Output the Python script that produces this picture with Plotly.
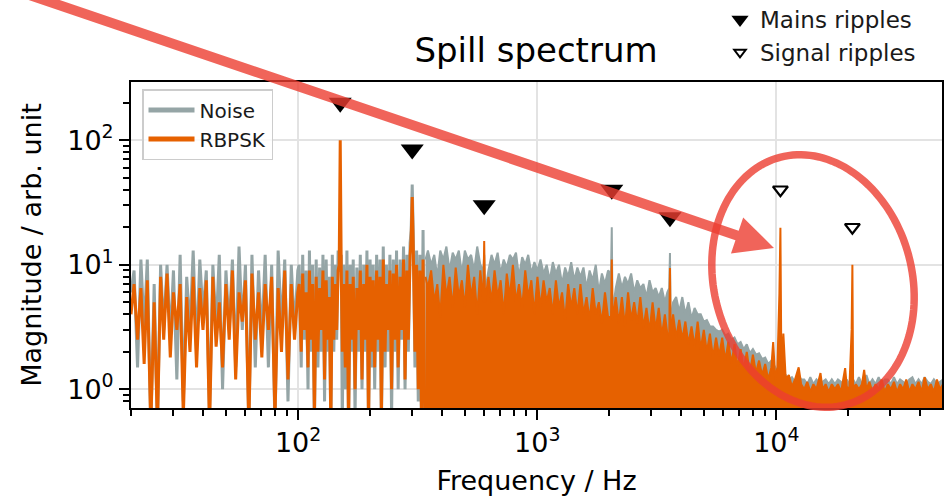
import numpy as np
import plotly.graph_objects as go

# ---------------- data ----------------
# 20 Hz - 340 Hz: individual spectral lines are still distinguishable
FREQ_LOW = [
    20.0, 20.6, 21.3, 22.0, 22.7, 23.4, 24.2, 25.0, 25.8, 26.6,
    27.4, 28.3, 29.2, 30.1, 31.1, 32.1, 33.1, 34.2, 35.3, 36.4,
    37.6, 38.8, 40.0, 41.3, 42.6, 44.0, 45.4, 46.8, 48.3, 49.9,
    51.5, 53.1, 54.8, 56.6, 58.4, 60.2, 62.2, 64.1, 66.2, 68.3,
    70.5, 72.8, 75.1, 77.5, 80.0, 82.5, 85.2, 87.9, 90.7, 93.6,
    96.6, 99.7,
    101, 103, 104.5, 106, 108, 110, 111.5, 113, 115, 117,
    119, 121, 123, 125, 127, 129, 131, 133, 135, 137,
    139, 141, 143, 145, 147, 148.5, 150, 151.5, 153, 155,
    157.5, 160, 162.5, 165, 167.5, 170, 173, 176, 179, 182,
    185, 188, 191, 194, 197, 200, 203, 206, 209, 213,
    216, 220, 223, 227, 231, 234, 238, 242, 246, 250,
    254, 258, 262, 267, 271, 276, 280, 285, 289, 294,
    297, 300, 303, 308, 313, 318, 323, 328, 333, 339,
]
NOISE_LOW = [
    6, 9, 1.5, 11, 3, 11, 0.5, 7, 0.5, 10,
    3, 10, 2.5, 9, 1.2, 12, 0.8, 8, 3, 13,
    2, 11, 4, 9, 0.6, 10, 3, 12, 1, 9,
    3, 11, 1.5, 14, 3, 10, 0.5, 12, 1.5, 9,
    2.5, 12, 1.5, 10, 0.5, 13, 3, 11, 0.8, 10,
    3, 9,
    10, 1.5, 12, 2.5, 9, 1, 13, 2, 10, 0.5,
    11, 1.5, 9.5, 2, 12, 0.8, 11, 2, 8, 0.5,
    12, 2, 10, 2.5, 13, 9, 9, 12, 0.5, 10,
    1, 13, 0.5, 10, 2, 11, 0.6, 9.5, 2, 12,
    1, 10, 2, 13, 0.5, 11, 1.5, 10, 1, 12,
    2, 11, 0.5, 14, 1.5, 10, 2, 12, 0.6, 11,
    2, 13, 1, 11, 2.5, 14, 1, 12, 2, 15,
    19, 44, 18, 1.5, 13, 0.8, 12, 0.5, 19, 0.5,
]
RBPSK_LOW = [
    4, 7, 2.5, 6.5, 1.6, 7.5, 0.5, 5, 0.5, 8,
    2.5, 8.5, 1.8, 6, 3, 7, 0.6, 5.5, 2, 8,
    1.5, 6.5, 3, 7.5, 0.5, 8, 2.2, 5, 1.5, 7,
    2.5, 9, 1.2, 6, 3.5, 7.5, 0.5, 8.5, 2.5, 6,
    1.8, 7, 3, 8, 0.6, 6.5, 2, 9, 1.2, 7,
    2.5, 6,
    7, 2, 8.5, 3, 6, 1.5, 9, 2.5, 7, 0.6,
    8, 2, 6.5, 3, 9, 1.2, 7.5, 2.5, 5.5, 0.5,
    8, 2.5, 7, 3, 9, 10, 100, 9, 2, 7,
    1.5, 9, 0.5, 7, 2.5, 8, 1, 6.5, 3, 9,
    1.2, 7, 2.5, 10, 0.5, 8, 2, 7.5, 1.5, 9,
    2.5, 8, 0.6, 11, 2, 7, 3, 9, 1, 8.5,
    2.5, 10, 1.5, 8, 3, 11, 1.2, 9, 2.5, 12,
    16, 35, 14, 2, 10, 1, 9, 0.6, 11, 0.5,
]

# 341 Hz - 50 kHz: lines are so dense that only the upper edge is readable
FREQ_DENSE = [
    341, 349,
    360, 371, 382, 393, 405, 417, 430, 443, 456, 470,
    484, 498, 513, 529, 545, 561, 578, 595, 600, 605,
    625, 644, 663, 683, 703, 724, 746, 768, 791, 815,
    839, 865, 891, 917, 945, 973, 1002, 1032, 1063, 1095,
    1128, 1162, 1197, 1233, 1270, 1308, 1347, 1387, 1429, 1472,
    1516, 1561, 1608, 1656, 1706, 1757, 1810, 1864, 1920, 1978,
    2035, 2050, 2065, 2130, 2194, 2260, 2328, 2398, 2470, 2544,
    2620, 2699, 2780, 2863, 2949, 3037, 3128, 3222, 3319, 3419,
    3500, 3565, 3590, 3615, 3700, 3811, 3925, 4043, 4164, 4289,
    4418, 4551, 4687, 4828, 4973, 5122, 5275, 5434, 5597, 5765,
    5938, 6116, 6299, 6488, 6683, 6884, 7090, 7303, 7522, 7748,
    7980, 8220, 8466, 8720, 8982, 9251, 9529, 9700, 9900, 10100,
    10300, 10400, 10500, 10700, 10950, 11280, 11620, 11970, 12400, 12700,
    13080, 13470, 13870, 14290, 14720, 15300, 15610, 16080, 16560, 17060,
    17570, 18100, 18640, 19400, 19700, 20200, 20650, 20800, 20950, 21500,
    22150, 22810, 23300, 23800, 24500, 25240, 26000, 26780, 27580, 28410,
    29260, 30140, 31040, 31970, 32930, 33920, 34940, 35990, 37070, 38180,
    39330, 40510, 41720, 42970, 44260, 45590, 46960, 48370, 49800,
]
NOISE_DENSE = [
    11, 13,
    10, 12, 8, 13, 11, 14, 9, 12.5, 11, 13,
    8.5, 13, 11, 12, 9, 14, 10, 9, 12, 6,
    9, 12, 10, 12.5, 8.5, 11, 9.5, 12, 11, 12.5,
    8, 11.5, 10, 12, 8.5, 10.5, 9, 11, 8.5, 10,
    7.5, 10.5, 8.5, 10, 7, 9.5, 8, 10.5, 7.5, 9.5,
    8, 9.5, 6.5, 9, 7.5, 10, 6, 8.5, 7, 9,
    8.5, 20, 4.2, 6.5, 8.5, 6.5, 8, 7, 8.5, 6,
    7.5, 6.5, 7, 5.5, 7.5, 6, 6.5, 5.5, 6.5, 5,
    6, 6.5, 12.4, 3.2, 5, 5.5, 4.2, 5.5, 4, 5,
    3.7, 4.5, 4, 4, 3.5, 3.6, 3.2, 3.2, 3, 2.9,
    3, 2.7, 2.8, 2.5, 2.6, 2.3, 2.4, 2.1, 2.3, 1.95,
    2.1, 1.9, 1.95, 1.75, 1.8, 1.6, 1.7, 1.6, 1.5, 1.45,
    1.3, 1.35, 1.25, 1.3, 1.3, 1.2, 1.25, 1.15, 1.3, 1.2,
    1.2, 1.1, 1.25, 1.1, 1.2, 1.1, 1.15, 1.2, 1.1, 1.2,
    1.1, 1.2, 1.15, 1.1, 1.2, 1.1, 1.15, 1.05, 1.2, 1.1,
    1.25, 1.1, 1.2, 1.3, 1.1, 1.2, 1.1, 1.25, 1.1, 1.2,
    1.2, 1.1, 1.25, 1.1, 1.2, 1.15, 1.1, 1.2, 1.25, 1.1,
    1.2, 1.1, 1.25, 1.15, 1.1, 1.2, 1.1, 1.15, 1.2,
]
RBPSK_DENSE = [
    8, 6.5,
    9, 5, 7, 3.8, 10, 5.5, 8, 4.5, 9.5, 5.5,
    7.5, 4.5, 10, 5.5, 8, 4, 9, 5, 15.5, 5,
    8, 5, 9, 5.5, 7.5, 4, 8.5, 5.5, 10, 5,
    7, 4.5, 9, 5.5, 7.5, 4, 8, 4.5, 7.5, 5,
    6.5, 4, 7.5, 4.5, 6, 3.6, 7, 4.5, 6.5, 4,
    7, 4, 5.5, 3.6, 6.5, 4, 5, 3.4, 6, 3.8,
    3.8, 11, 3.6, 5.5, 3.4, 5.5, 3.2, 6, 3.6, 5,
    3.4, 5.5, 3.1, 4.5, 2.9, 5, 3, 4.5, 2.7, 4,
    2.8, 2.7, 9.4, 2.7, 4, 2.6, 3.6, 2.5, 3.5, 2.3,
    3.2, 2.2, 3.5, 2.1, 3, 2.0, 2.8, 1.8, 2.6, 1.85,
    2.6, 1.7, 2.4, 1.6, 2.3, 1.5, 2.1, 1.45, 2.0, 1.35,
    1.9, 1.35, 1.7, 1.3, 1.6, 1.2, 1.5, 2.4, 1.2, 1.5,
    5.9, 19.8, 1.4, 2.8, 1.2, 1.3, 1.05, 1.2, 1.5, 1.1,
    1.0, 1.15, 0.95, 1.1, 1.0, 1.35, 1.0, 1.1, 0.95, 1.1,
    1.0, 1.1, 0.95, 1.48, 1.05, 1.0, 3.0, 10, 1.0, 1.1,
    1.0, 1.1, 1.43, 1.0, 1.15, 0.95, 1.1, 1.0, 1.2, 0.95,
    1.1, 1.0, 1.15, 0.95, 1.1, 1.0, 1.2, 0.95, 1.1, 1.0,
    1.15, 0.95, 1.25, 1.0, 1.1, 0.95, 1.2, 1.0, 1.1,
]

MAINS_FREQ = [150, 300, 600, 2050, 3590]
MAINS_MARK = [200, 84, 30, 40, 24]
SIGNAL_FREQ = [10400, 20800]
SIGNAL_MARK = [40, 20]

X_TICKS = [100, 1000, 10000]
X_TICK_TEXT = ["10<sup>2</sup>", "10<sup>3</sup>", "10<sup>4</sup>"]
Y_TICKS = [1, 10, 100]
Y_TICK_TEXT = ["10<sup>0</sup>", "10<sup>1</sup>", "10<sup>2</sup>"]

assert len(FREQ_LOW) == len(NOISE_LOW) == len(RBPSK_LOW)
assert len(FREQ_DENSE) == len(NOISE_DENSE) == len(RBPSK_DENSE)

# ---------------- styling ----------------
GRAY = "#95a5a6"
ORANGE = "#e66100"
RED = "rgba(236,61,49,0.8)"
FONT = "DejaVu Sans"

FIG_W, FIG_H = 947, 500
ML, MR, MT, MB = 131, 5, 82, 92
PW = FIG_W - ML - MR
PH = FIG_H - MT - MB


def to_paper(px, py):
    return (px - ML) / PW, (FIG_H - MB - py) / PH


def path_from(points):
    parts = []
    for i, (px, py) in enumerate(points):
        x, y = to_paper(px, py)
        parts.append(("M" if i == 0 else "L") + f"{x:.5f},{y:.5f}")
    return " ".join(parts) + " Z"


fig = go.Figure()
# Noise (gray) below RBPSK (orange)
fig.add_trace(go.Scatter(x=FREQ_LOW, y=NOISE_LOW, mode="lines", name="Noise",
                         line=dict(color=GRAY, width=3, simplify=False), showlegend=False))
fig.add_trace(go.Scatter(x=FREQ_DENSE, y=NOISE_DENSE, mode="lines", name="Noise",
                         line=dict(color=GRAY, width=2, simplify=False),
                         fill="tozeroy", fillcolor=GRAY, showlegend=False))
fig.add_trace(go.Scatter(x=FREQ_LOW, y=RBPSK_LOW, mode="lines", name="RBPSK",
                         line=dict(color=ORANGE, width=3, simplify=False), showlegend=False))
fig.add_trace(go.Scatter(x=FREQ_DENSE, y=RBPSK_DENSE, mode="lines", name="RBPSK",
                         line=dict(color=ORANGE, width=2, simplify=False),
                         fill="tozeroy", fillcolor=ORANGE, showlegend=False))
fig.add_trace(go.Scatter(x=MAINS_FREQ, y=MAINS_MARK, mode="markers", name="Mains ripples",
                         marker=dict(symbol="triangle-down", size=20, color="black"),
                         showlegend=False))
fig.add_trace(go.Scatter(x=SIGNAL_FREQ, y=SIGNAL_MARK, mode="markers", name="Signal ripples",
                         marker=dict(symbol="triangle-down", size=13, color="white",
                                     line=dict(color="black", width=2.2)),
                         showlegend=False))

# legend entries
fig.add_trace(go.Scatter(x=[None], y=[None], mode="lines", name="Noise",
                         line=dict(color=GRAY, width=5), legend="legend"))
fig.add_trace(go.Scatter(x=[None], y=[None], mode="lines", name="RBPSK",
                         line=dict(color=ORANGE, width=5), legend="legend"))
fig.add_trace(go.Scatter(x=[None], y=[None], mode="markers", name="Mains ripples",
                         marker=dict(symbol="triangle-down", size=15, color="black"),
                         legend="legend2"))
fig.add_trace(go.Scatter(x=[None], y=[None], mode="markers", name="Signal ripples",
                         marker=dict(symbol="triangle-down", size=10, color="white",
                                     line=dict(color="black", width=2)),
                         legend="legend2"))

x_minor = [m * 10 ** e for e in range(1, 5) for m in range(2, 10)]
y_minor = [m * 10 ** e for e in range(-1, 3) for m in range(2, 10)]

axis_common = dict(
    type="log", ticks="outside", ticklen=10, tickwidth=2, tickcolor="black",
    showline=True, linecolor="black", linewidth=2, mirror=True,
    showgrid=True, gridcolor="#e3e3e3", gridwidth=1.5, zeroline=False,
    tickmode="array", tickfont=dict(family=FONT, size=27, color="black"),
)
fig.update_xaxes(
    **axis_common,
    range=[np.log10(20), np.log10(49300)],
    tickvals=X_TICKS, ticktext=X_TICK_TEXT,
    minor=dict(tickmode="array", tickvals=x_minor, ticks="outside", ticklen=6,
               tickwidth=1.5, tickcolor="black", showgrid=False),
    title=dict(text="Frequency / Hz", font=dict(family=FONT, size=27, color="black"),
               standoff=14),
)
fig.update_yaxes(
    **axis_common,
    range=[np.log10(0.708), np.log10(293)],
    tickvals=Y_TICKS, ticktext=Y_TICK_TEXT,
    minor=dict(tickmode="array", tickvals=y_minor, ticks="outside", ticklen=6,
               tickwidth=1.5, tickcolor="black", showgrid=False),
    title=dict(text="Magnitude / arb. unit", font=dict(family=FONT, size=27, color="black"),
               standoff=18),
)

# arrow (annotation graphics in pixel geometry)
start = np.array([0.0, -15.0])
tip = np.array([774.0, 248.0])
u = (tip - start) / np.linalg.norm(tip - start)
n = np.array([-u[1], u[0]])
base = tip - 39 * u
hw_shaft, hw_head = 5.0, 19.0
arrow_pts = [start + hw_shaft * n, base + hw_shaft * n, base + hw_head * n, tip,
             base - hw_head * n, base - hw_shaft * n, start - hw_shaft * n]

# ellipse
cx, cy, A, B, phi = 813.0, 281.0, 128.0, 99.0, np.radians(15)
t = np.linspace(0, 2 * np.pi, 145)
minor_dir = np.array([np.cos(phi), -np.sin(phi)])
major_dir = np.array([-np.sin(phi), -np.cos(phi)])
ell_pts = [np.array([cx, cy]) + B * np.cos(a) * minor_dir + A * np.sin(a) * major_dir for a in t]

fig.update_layout(
    width=FIG_W, height=FIG_H,
    margin=dict(l=ML, r=MR, t=MT, b=MB, autoexpand=False),
    paper_bgcolor="white", plot_bgcolor="white",
    font=dict(family=FONT, color="black"),
    title=dict(text="Spill spectrum", font=dict(family=FONT, size=34, color="black"),
               x=536 / FIG_W, xanchor="center", y=1 - 50 / FIG_H, yanchor="middle",
               xref="container", yref="container"),
    legend=dict(x=to_paper(142, 0)[0], y=to_paper(0, 89)[1], xanchor="left", yanchor="top",
                bgcolor="rgba(255,255,255,0.8)", bordercolor="#cccccc", borderwidth=1.5,
                itemwidth=46,
                font=dict(family=FONT, size=20, color="#1a1a1a")),
    legend2=dict(x=to_paper(720, 0)[0], y=to_paper(0, -2)[1], xanchor="left", yanchor="top",
                 bgcolor="rgba(0,0,0,0)", borderwidth=0,
                 font=dict(family=FONT, size=23, color="#1a1a1a")),
    shapes=[
        dict(type="path", path=path_from(arrow_pts), xref="paper", yref="paper",
             fillcolor=RED, line=dict(width=0), layer="above"),
        dict(type="path", path=path_from(ell_pts), xref="paper", yref="paper",
             fillcolor="rgba(0,0,0,0)", line=dict(color=RED, width=7.5), layer="above"),
    ],
    showlegend=True,
)

fig.write_html("out.html")
